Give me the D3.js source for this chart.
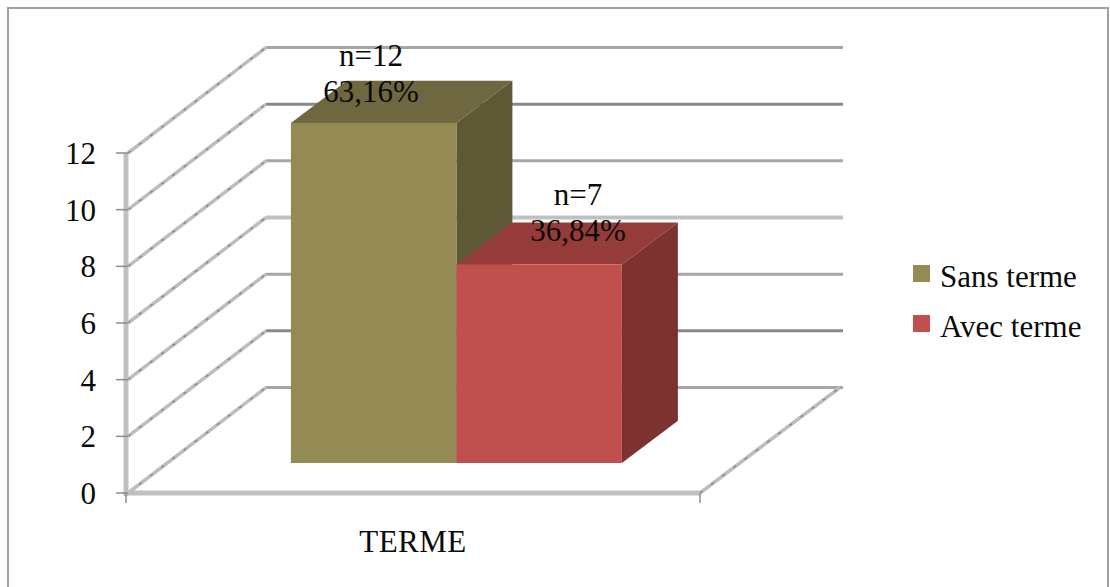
<!DOCTYPE html>
<html>
<head>
<meta charset="utf-8">
<script src="https://cdn.jsdelivr.net/npm/d3@7"></script>
<style>
  html, body { margin: 0; padding: 0; background: #fff; overflow: hidden; }
  text { font-family: "Liberation Serif", serif; fill: #0a0a0a; }
</style>
</head>
<body>
<svg id="chart" width="1110" height="587"></svg>
<script>
// Chart values
const categories = ["TERME"];
const seriesNames = ["Sans terme", "Avec terme"];
const seriesValues = [12, 7];
const seriesLabels = [["n=12", "63,16%"], ["n=7", "36,84%"]];
const tickValues = [0, 2, 4, 6, 8, 10, 12];

// Palette: front, top and side faces of each box
const frontColors = ["#948a54", "#c0504d"];
const topColors = ["#6f6740", "#953c3a"];
const sideColors = ["#5f5835", "#7c3230"];
const gridColors = ["#a6a6a6", "#888888", "#a6a6a6", "#c0c0c0", "#a6a6a6", "#888888", "#a6a6a6"];
const gridWidths = [3, 3, 3, 4, 3, 3, 3];

const svg = d3.select("#chart");

// Chart frame
svg.append("rect")
  .attr("x", 8).attr("y", 8)
  .attr("width", 1100).attr("height", 600)
  .attr("fill", "#fff").attr("stroke", "#a0a0a0").attr("stroke-width", 2);

// Front plane scales
const y = d3.scaleLinear().domain([0, 12]).range([493, 153]);
const x = d3.scaleBand().domain(categories).range([126, 700]);
const barX = d3.scaleBand().domain(seriesNames)
  .range([x(categories[0]) + 125, x(categories[0]) + 456]);

// Oblique projection: depth 0 is the front plane, depth 1 the back wall
const depthX = d3.scaleLinear().domain([0, 1]).range([0, 140]);
const depthY = d3.scaleLinear().domain([0, 1]).range([0, -105.5]);
const boxFront = 0.285;
const boxBack = 0.685;
const project = (px, value, depth) => [px + depthX(depth), y(value) + depthY(depth)];
const polygon = pts => pts.map(p => p.join(",")).join(" ");

// Back wall gridlines
svg.append("g").selectAll("line").data(tickValues).join("line")
  .attr("x1", project(x.range()[0], 0, 1)[0])
  .attr("x2", 843)
  .attr("y1", d => project(0, d, 1)[1])
  .attr("y2", d => project(0, d, 1)[1])
  .attr("stroke", (d, i) => gridColors[i])
  .attr("stroke-width", (d, i) => gridWidths[i]);

// Receding lines: light body with a darker speckle along the centre
const diagonal = (sel, x1, y1, x2, y2) => {
  [["#bdbdbd", 3.5, null], ["#8a8a8a", 1.5, "3 11"]].forEach(([color, width, dash]) => {
    sel.append("line")
      .attr("x1", x1).attr("y1", y1).attr("x2", x2).attr("y2", y2)
      .attr("stroke", color).attr("stroke-width", width)
      .attr("stroke-dasharray", dash);
  });
};
const sideWall = svg.append("g");
tickValues.forEach(d => {
  diagonal(sideWall, x.range()[0] + 2, y(d), ...project(x.range()[0], d, 1));
});
diagonal(sideWall, x.range()[1], y(0), ...project(x.range()[1], 0, 1));

// Value axis and floor front edge
svg.append("line")
  .attr("x1", x.range()[0]).attr("x2", x.range()[0])
  .attr("y1", y(12)).attr("y2", y(0) + 3)
  .attr("stroke", "#c0c0c0").attr("stroke-width", 5);
svg.append("line")
  .attr("x1", x.range()[0]).attr("x2", x.range()[1])
  .attr("y1", y(0)).attr("y2", y(0))
  .attr("stroke", "#c0c0c0").attr("stroke-width", 5);

// Tick marks
svg.append("g").selectAll("line").data(tickValues).join("line")
  .attr("x1", x.range()[0] - 10).attr("x2", x.range()[0] + 2)
  .attr("y1", d => y(d)).attr("y2", d => y(d))
  .attr("stroke", "#8c8c8c").attr("stroke-width", 1.5);
svg.append("g").selectAll("line").data(x.range()).join("line")
  .attr("x1", d => d).attr("x2", d => d)
  .attr("y1", y(0)).attr("y2", y(0) + 10)
  .attr("stroke", "#8c8c8c").attr("stroke-width", 1.5);

// Tick labels
svg.append("g").selectAll("text").data(tickValues).join("text")
  .attr("x", x.range()[0] - 30)
  .attr("y", d => y(d) + 11)
  .attr("text-anchor", "end")
  .attr("font-size", 31)
  .text(d => d);

svg.append("text")
  .attr("x", 413).attr("y", 552)
  .attr("text-anchor", "middle")
  .attr("font-size", 31)
  .attr("letter-spacing", 0.5)
  .text(categories[0]);

// 3D boxes
seriesNames.forEach((name, i) => {
  const left = barX(name);
  const right = left + barX.bandwidth();
  const v = seriesValues[i];
  const g = svg.append("g");
  g.append("polygon")
    .attr("fill", topColors[i])
    .attr("points", polygon([
      project(left, v, boxFront),
      project(right, v, boxFront),
      project(right, v, boxBack),
      project(left, v, boxBack)
    ]));
  g.append("polygon")
    .attr("fill", sideColors[i])
    .attr("points", polygon([
      project(right, v, boxFront),
      project(right, v, boxBack),
      project(right, 0, boxBack),
      project(right, 0, boxFront)
    ]));
  g.append("polygon")
    .attr("fill", frontColors[i])
    .attr("points", polygon([
      project(left, v, boxFront),
      project(right, v, boxFront),
      project(right, 0, boxFront),
      project(left, 0, boxFront)
    ]));
});

// Value labels above each box
const labelCenters = [371, 578];
const labelBaselines = [66, 205];
seriesLabels.forEach((lines, i) => {
  lines.forEach((line, j) => {
    svg.append("text")
      .attr("x", labelCenters[i])
      .attr("y", labelBaselines[i] + j * 36)
      .attr("text-anchor", "middle")
      .attr("font-size", 31)
      .text(line);
  });
});

// Legend
const legend = svg.append("g").selectAll("g").data(seriesNames).join("g")
  .attr("transform", (d, i) => `translate(913,${265 + i * 50})`);
legend.append("rect").attr("width", 17).attr("height", 17)
  .attr("fill", (d, i) => frontColors[i]);
legend.append("text").attr("x", 27).attr("y", 22)
  .attr("font-size", 31)
  .text(d => d);
</script>
</body>
</html>
